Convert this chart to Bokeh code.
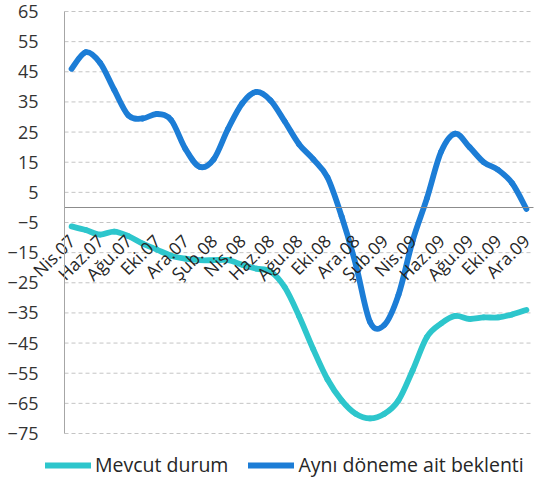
import math
from bokeh.plotting import figure
from bokeh.models import FixedTicker, Legend, LegendItem, Range1d, ColumnDataSource
from bokeh.embed import file_html
from bokeh.resources import INLINE

months = ["Nis.07", "May.07", "Haz.07", "Tem.07", "Ağu.07", "Eyl.07", "Eki.07", "Kas.07", "Ara.07",
          "Oca.08", "Şub.08", "Mar.08", "Nis.08", "May.08", "Haz.08", "Tem.08", "Ağu.08", "Eyl.08",
          "Eki.08", "Kas.08", "Ara.08",
          "Oca.09", "Şub.09", "Mar.09", "Nis.09", "May.09", "Haz.09", "Tem.09", "Ağu.09", "Eyl.09",
          "Eki.09", "Kas.09", "Ara.09"]

mevcut = [-6.3, -7.5, -9.0, -8.0, -9.5, -12.0, -14.0, -16.0, -17.0,
          -17.5, -17.5, -17.5, -19.0, -20.3, -21.3, -26.5, -36.0, -47.0,
          -57.0, -64.0, -68.5,
          -70.0, -68.5, -64.0, -54.0, -43.0, -38.5, -36.0, -37.0, -36.5,
          -36.5, -35.5, -34.0]

beklenti = [46.0, 51.5, 48.0, 39.0, 30.5, 29.5, 31.0, 29.0, 19.5,
            13.5, 16.0, 26.0, 34.5, 38.3, 35.5, 28.5, 21.0, 16.0,
            10.0, -3.0, -19.0,
            -38.0, -39.0, -29.0, -11.0, 3.0, 18.5, 24.5, 20.0, 15.0,
            12.5, 8.0, -0.5]

y_ticks = list(range(-75, 66, 10))
y_min, y_max = -75, 65
label_step = 2

series_names = ["Mevcut durum", "Aynı döneme ait beklenti"]
series_colors = ["#2DC6CC", "#1C7DD6"]

FONT = "Open Sans"

# ---- layout (pixels) ----
W, H = 534, 483
plot_left, plot_right, plot_top, plot_bottom = 64, 533, 11, 433

n = len(months)
x_lo, x_hi = -0.5, n - 0.5
px_per_x = (plot_right - plot_left) / (x_hi - x_lo)
px_per_y = (plot_bottom - plot_top) / (y_max - y_min)
x_range = Range1d(x_lo - plot_left / px_per_x, x_hi + (W - plot_right) / px_per_x)
y_range = Range1d(y_min - (H - plot_bottom) / px_per_y, y_max + plot_top / px_per_y)


def smooth_segments(vals):
    """Bezier segments through the data points (Excel-like smoothed line)."""
    m = len(vals)
    d = dict(x0=[], y0=[], x1=[], y1=[], cx0=[], cy0=[], cx1=[], cy1=[])
    for i in range(m - 1):
        a = max(i - 1, 0)
        b = min(i + 2, m - 1)
        d["x0"].append(i)
        d["y0"].append(vals[i])
        d["x1"].append(i + 1)
        d["y1"].append(vals[i + 1])
        d["cx0"].append(i + ((i + 1) - a) / 6.0)
        d["cy0"].append(vals[i] + (vals[i + 1] - vals[a]) / 6.0)
        d["cx1"].append((i + 1) - (b - i) / 6.0)
        d["cy1"].append(vals[i + 1] - (vals[b] - vals[i]) / 6.0)
    return ColumnDataSource(d)


p = figure(width=W, height=H, output_backend="svg", toolbar_location=None,
           x_range=x_range, y_range=y_range,
           min_border_left=0, min_border_right=0, min_border_top=0, min_border_bottom=0)
p.outline_line_color = None
p.background_fill_color = "white"
p.border_fill_color = "white"
p.xgrid.visible = False
p.ygrid.visible = False

# dashed horizontal gridlines over the plot area only
grid_src = ColumnDataSource(dict(x0=[x_lo] * len(y_ticks), x1=[x_hi] * len(y_ticks), y=y_ticks))
p.segment(x0="x0", y0="y", x1="x1", y1="y", source=grid_src,
          line_color="#C4C4C4", line_width=1, line_dash="4 3")

renderers = []
for vals, color in zip([mevcut, beklenti], series_colors):
    src = smooth_segments(vals)
    r = p.bezier(x0="x0", y0="y0", x1="x1", y1="y1", cx0="cx0", cy0="cy0", cx1="cx1", cy1="cy1",
                 source=src, line_color=color, line_width=5.8, line_cap="round")
    renderers.append(r)

# y axis
p.yaxis.fixed_location = x_lo
p.yaxis.bounds = (y_min, y_max)
p.yaxis.ticker = FixedTicker(ticks=y_ticks)
p.yaxis.axis_line_color = "#A6A6A6"
p.yaxis.major_tick_line_color = None
p.yaxis.minor_tick_line_color = None
p.yaxis.major_label_standoff = 20
p.yaxis.major_label_text_font = FONT
p.yaxis.major_label_text_font_size = "18px"
p.yaxis.major_label_text_color = "#333333"

# x axis at zero
tick_pos = list(range(0, n, label_step))
p.xaxis.fixed_location = 0
p.xaxis.bounds = (x_lo, x_hi)
p.xaxis.ticker = FixedTicker(ticks=tick_pos)
p.xaxis.major_label_overrides = {i: months[i] for i in tick_pos}
p.xaxis.major_label_orientation = math.pi / 4
p.xaxis.axis_line_color = "#8C8C8C"
p.xaxis.major_tick_line_color = None
p.xaxis.minor_tick_line_color = None
p.xaxis.major_label_standoff = 24
p.xaxis.major_label_text_font = FONT
p.xaxis.major_label_text_font_size = "17.5px"
p.xaxis.major_label_text_color = "#262626"

legend = Legend(items=[LegendItem(label=nm, renderers=[r]) for nm, r in zip(series_names, renderers)],
                orientation="horizontal", location=(45, 5), padding=0, margin=0,
                spacing=20, glyph_width=46, glyph_height=20, label_standoff=4,
                border_line_color=None, background_fill_alpha=0,
                label_text_font=FONT, label_text_font_size="19.5px", label_text_color="#262626")
p.add_layout(legend)

open("out.html", "w").write(file_html(p, INLINE))
